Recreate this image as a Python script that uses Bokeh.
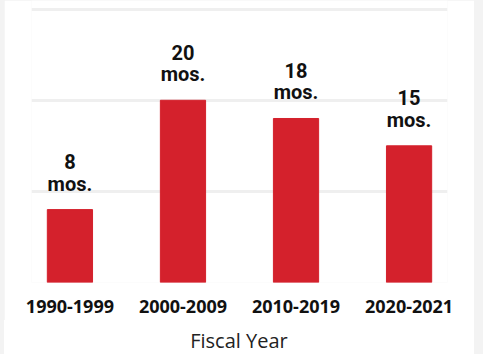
from bokeh.plotting import figure
from bokeh.models import FactorRange, Range1d, ColumnDataSource, FixedTicker, Div
from bokeh.layouts import column
from bokeh.embed import file_html
from bokeh.resources import INLINE
from bokeh.core.properties import value

periods = ["1990-1999", "2000-2009", "2010-2019", "2020-2021"]
months = [8, 20, 18, 15]
value_labels = ["8", "20", "18", "15"]
unit_labels = ["mos.", "mos.", "mos.", "mos."]
grid_ticks = [0, 10, 20, 30]
x_title = "Fiscal Year"

src = ColumnDataSource(dict(period=periods, months=months, num=value_labels, unit=unit_labels))

p = figure(width=470, height=320,
           x_range=FactorRange(*periods, range_padding=-0.16, range_padding_units="absolute"),
           y_range=Range1d(0, 30.95),
           output_backend="svg", toolbar_location=None,
           min_border_left=27, min_border_right=27, min_border_top=0, min_border_bottom=38,
           margin=(0, 9, 0, 4))
p.outline_line_color = None
p.background_fill_color = "white"
p.border_fill_color = "white"

p.xgrid.visible = False
p.ygrid.ticker = FixedTicker(ticks=grid_ticks)
p.ygrid.grid_line_color = "#efefef"
p.ygrid.grid_line_width = 3
p.yaxis.visible = False

p.vbar(x="period", top="months", width=0.4, source=src, color="#d4212c")

common = dict(text_align="center", text_baseline="alphabetic", text_font=value("Roboto"),
              text_font_style="bold", text_color="#111111", text_font_size="20px")
p.text(x="period", y="months", text="unit", source=src, y_offset=-26, **common)
p.text(x="period", y="months", text="num", source=src, y_offset=-48, **common)

ax = p.xaxis[0]
ax.axis_line_color = None
ax.major_tick_line_color = None
ax.minor_tick_line_color = None
ax.major_label_text_font = "Open Sans"
ax.major_label_text_font_style = "bold"
ax.major_label_text_font_size = "18px"
ax.major_label_text_color = "#111111"
ax.major_label_standoff = 11

div = Div(text=x_title, width=470, height=34, margin=(0, 9, 0, 4),
          styles={"background-color": "white", "text-align": "center",
                  "font-family": "Open Sans", "font-size": "20px", "color": "#222222",
                  "padding-top": "7px", "box-sizing": "border-box"})

layout = column(p, div, spacing=0, styles={"background-color": "#f3f3f3"})

open("out.html", "w").write(file_html(layout, INLINE))
